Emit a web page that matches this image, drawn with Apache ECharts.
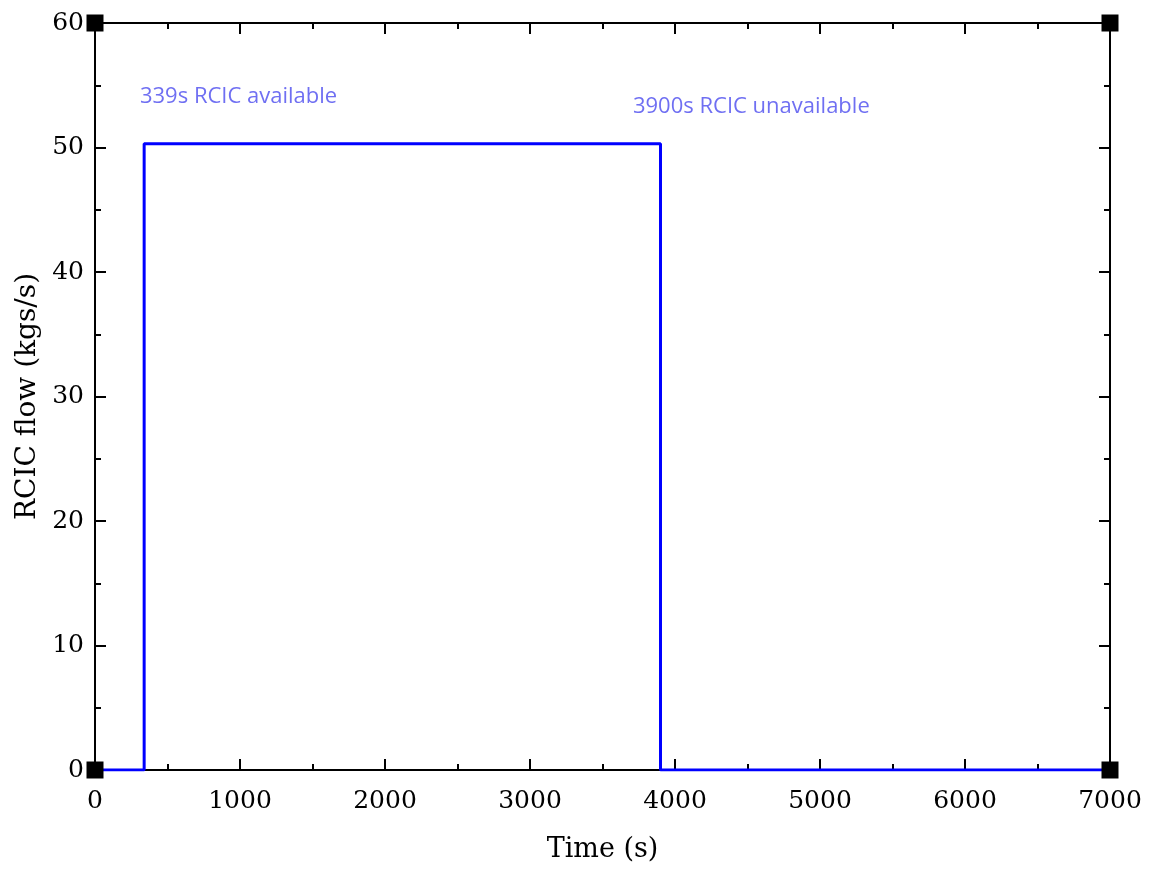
<!DOCTYPE html>
<html><head><meta charset="utf-8">
<script src="https://cdn.jsdelivr.net/npm/echarts@6/dist/echarts.min.js"></script>
<style>html,body{margin:0;padding:0;background:#fff}#c{width:1151px;height:869px}</style>
</head><body><div id="c"></div>
<script>
var timeS = [0, 339, 339, 3900, 3900, 7000];
var flowKgs = [0, 0, 50.3, 50.3, 0, 0];
var xTicks = [0, 1000, 2000, 3000, 4000, 5000, 6000, 7000];
var yTicks = [0, 10, 20, 30, 40, 50, 60];
var cornerX = [0, 7000, 0, 7000];
var cornerY = [0, 0, 60, 60];
var noteText = ['339s RCIC available', '3900s RCIC unavailable'];
var noteX = [310, 3710];
var noteY = [54.1, 53.3];

var serif = 'DejaVu Serif';
var chart = echarts.init(document.getElementById('c'), null, {renderer:'canvas'});
function xa(pos, show){
  return {type:'value', position:pos, min:xTicks[0], max:xTicks[xTicks.length-1], interval:1000,
    axisLine:{show:true, onZero:false, lineStyle:{color:'#000', width:2}},
    axisTick:{show:true, inside:true, length:11, lineStyle:{color:'#000', width:2}},
    minorTick:{show:true, splitNumber:2, length:6, lineStyle:{color:'#000', width:2}},
    splitLine:{show:false},
    axisLabel:{show:show, color:'#000', fontFamily:serif, fontSize:25, margin:19,
      formatter:function(v){return String(v);}},
    name: show ? 'Time (s)' : '', nameLocation:'middle', nameGap:66,
    nameTextStyle:{color:'#000', fontFamily:serif, fontSize:27}};
}
function ya(pos, show){
  return {type:'value', position:pos, min:yTicks[0], max:yTicks[yTicks.length-1], interval:10,
    axisLine:{show:true, onZero:false, lineStyle:{color:'#000', width:2}},
    axisTick:{show:true, inside:true, length:11, lineStyle:{color:'#000', width:2}},
    minorTick:{show:true, splitNumber:2, length:6, lineStyle:{color:'#000', width:2}},
    splitLine:{show:false},
    axisLabel:{show:show, color:'#000', fontFamily:serif, fontSize:25, margin:11,
      formatter:function(v){return String(v);}},
    name: show ? 'RCIC flow (kgs/s)' : '', nameLocation:'middle', nameGap:52,
    nameTextStyle:{color:'#000', fontFamily:serif, fontSize:28}};
}
var lineData = timeS.map(function(t,i){return [t, flowKgs[i]];});
var cornerData = cornerX.map(function(x,i){return [x, cornerY[i]];});
var noteData = noteText.map(function(t,i){return {value:[noteX[i], noteY[i]], name:t};});
chart.setOption({
  animation:false,
  grid:{left:95, right:41, top:23, bottom:99, containLabel:false, outerBoundsMode:'none'},
  xAxis:[xa('bottom', true), xa('top', false)],
  yAxis:[ya('left', true), ya('right', false)],
  series:[
    {type:'line', data:lineData, symbol:'none', z:3,
     lineStyle:{color:'#0000ff', width:3}},
    {type:'scatter', data:cornerData, symbol:'rect', symbolSize:17, z:5,
     itemStyle:{color:'#000', opacity:1}, silent:true},
    {type:'scatter', data:noteData, symbolSize:0, z:4, silent:true,
     label:{show:true, position:'right', distance:0, formatter:'{b}',
       color:'#4b4bef', fontFamily:'Open Sans', fontSize:22}}
  ]
});
</script></body></html>
